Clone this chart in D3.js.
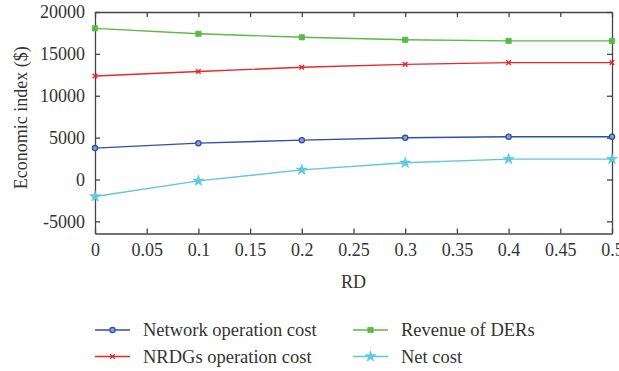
<!DOCTYPE html>
<html>
<head>
<meta charset="utf-8">
<script src="https://cdn.jsdelivr.net/npm/d3@7/dist/d3.min.js"></script>
<style>
  html, body { margin: 0; padding: 0; background: #fff; }
  svg { display: block; }
</style>
</head>
<body>
<svg id="chart" width="619" height="371"></svg>
<script>
// RD values on the x axis
const rd = [0, 0.1, 0.2, 0.3, 0.4, 0.5];

// Economic indices ($) for each RD level
const networkCost = [3750, 4340, 4700, 4980, 5100, 5100];
const nrdgCost    = [12350, 12900, 13400, 13750, 13950, 13950];
const derRevenue  = [18050, 17400, 16980, 16680, 16550, 16550];
const netCost     = [-2030, -170, 1150, 1990, 2430, 2430];

const xTicks = [0, 0.05, 0.1, 0.15, 0.2, 0.25, 0.3, 0.35, 0.4, 0.45, 0.5];
const yTicks = [-5000, 0, 5000, 10000, 15000, 20000];

const seriesNames  = ["Network operation cost", "NRDGs operation cost", "Revenue of DERs", "Net cost"];
const seriesValues = [networkCost, nrdgCost, derRevenue, netCost];
const seriesColors = ["#2f4fa6", "#e8262c", "#5cb946", "#5ec8dc"];
const seriesMarkers = ["circle", "cross", "square", "star"];

const FONT = "'Liberation Serif', 'Times New Roman', serif";
const FS = 18;
const FS_LEGEND = 18.5;
const TEXT_COLOR = "#333";

const svg = d3.select("#chart");
const m = { left: 95, right: 612, top: 12, bottom: 233.5 };

const x = d3.scaleLinear().domain([0, 0.5]).range([m.left, m.right]);
const y = d3.scaleLinear().domain([-6450, 20000]).range([m.bottom, m.top]);

const axisColor = "#444";
const tickLen = 5;
const fmtX = d => (d === 0 ? "0" : String(d));

// Bottom axis: labels, inward ticks
const gB = svg.append("g").attr("transform", `translate(0,${m.bottom})`)
  .call(d3.axisBottom(x).tickValues(xTicks).tickFormat(fmtX).tickSizeInner(-tickLen).tickSizeOuter(0).tickPadding(10));
// Top axis: ticks only
const gT = svg.append("g").attr("transform", `translate(0,${m.top})`)
  .call(d3.axisTop(x).tickValues(xTicks).tickFormat("").tickSizeInner(-tickLen).tickSizeOuter(0));
// Left axis: labels, inward ticks
const gL = svg.append("g").attr("transform", `translate(${m.left},0)`)
  .call(d3.axisLeft(y).tickValues(yTicks).tickFormat(d => String(d)).tickSizeInner(-tickLen).tickSizeOuter(0).tickPadding(10));
// Right axis: ticks only
const gR = svg.append("g").attr("transform", `translate(${m.right},0)`)
  .call(d3.axisRight(y).tickValues(yTicks).tickFormat("").tickSizeInner(-tickLen).tickSizeOuter(0));

[gB, gT, gL, gR].forEach(g => {
  g.attr("font-family", FONT).attr("font-size", FS);
  g.select(".domain").attr("stroke", axisColor).attr("stroke-width", 1.3);
  g.selectAll(".tick line").attr("stroke", axisColor).attr("stroke-width", 1.3);
  g.selectAll(".tick text").attr("font-size", FS).attr("fill", TEXT_COLOR).attr("font-family", FONT);
});

// Axis titles
svg.append("text").attr("x", x(0.25)).attr("y", 288)
  .attr("text-anchor", "middle").attr("font-size", FS).attr("font-family", FONT).attr("fill", TEXT_COLOR)
  .text("RD");
svg.append("text").attr("transform", `translate(27,${(m.top + m.bottom) / 2 - 5}) rotate(-90)`)
  .attr("text-anchor", "middle").attr("font-size", FS).attr("font-family", FONT).attr("fill", TEXT_COLOR)
  .text("Economic index ($)");

// Marker shapes
const starPath = d3.symbol().type(d3.symbolStar).size(38)();
const squarePath = d3.symbol().type(d3.symbolSquare).size(28)();
function drawMarker(g, type, color, cx, cy) {
  if (type === "circle") {
    g.append("circle").attr("cx", cx).attr("cy", cy).attr("r", 2.6)
      .attr("fill", "#8aa0d6").attr("stroke", color).attr("stroke-width", 1.3);
  } else if (type === "cross") {
    const s = 2.3;
    g.append("path").attr("d", `M${cx - s},${cy - s}L${cx + s},${cy + s}M${cx - s},${cy + s}L${cx + s},${cy - s}`)
      .attr("stroke", color).attr("stroke-width", 1.4).attr("fill", "none");
  } else if (type === "square") {
    g.append("path").attr("d", squarePath).attr("transform", `translate(${cx},${cy})`)
      .attr("fill", color).attr("stroke", color).attr("stroke-width", 0.8);
  } else if (type === "star") {
    g.append("path").attr("d", starPath).attr("transform", `translate(${cx},${cy})`)
      .attr("fill", color).attr("stroke", color).attr("stroke-width", 0.6);
  }
}

// Series lines and markers
const line = d3.line().x((d, i) => x(rd[i])).y(d => y(d));
seriesValues.forEach((vals, k) => {
  const g = svg.append("g");
  g.append("path").datum(vals).attr("d", line)
    .attr("fill", "none").attr("stroke", seriesColors[k]).attr("stroke-width", 1.4);
  vals.forEach((v, i) => drawMarker(g, seriesMarkers[k], seriesColors[k], x(rd[i]), y(v)));
});

// Legend: two columns, two rows
const legendPos = [
  { lx: 95, ty: 330 },
  { lx: 95, ty: 356.5 },
  { lx: 353, ty: 330 },
  { lx: 353, ty: 356.5 }
];
seriesNames.forEach((name, k) => {
  const p = legendPos[k];
  const g = svg.append("g");
  g.append("line").attr("x1", p.lx).attr("x2", p.lx + 35).attr("y1", p.ty).attr("y2", p.ty)
    .attr("stroke", seriesColors[k]).attr("stroke-width", 1.4);
  drawMarker(g, seriesMarkers[k], seriesColors[k], p.lx + 17.5, p.ty);
  g.append("text").attr("x", p.lx + 48).attr("y", p.ty).attr("dy", "0.33em")
    .attr("font-size", FS_LEGEND).attr("font-family", FONT).attr("fill", TEXT_COLOR).text(name);
});
</script>
</body>
</html>
